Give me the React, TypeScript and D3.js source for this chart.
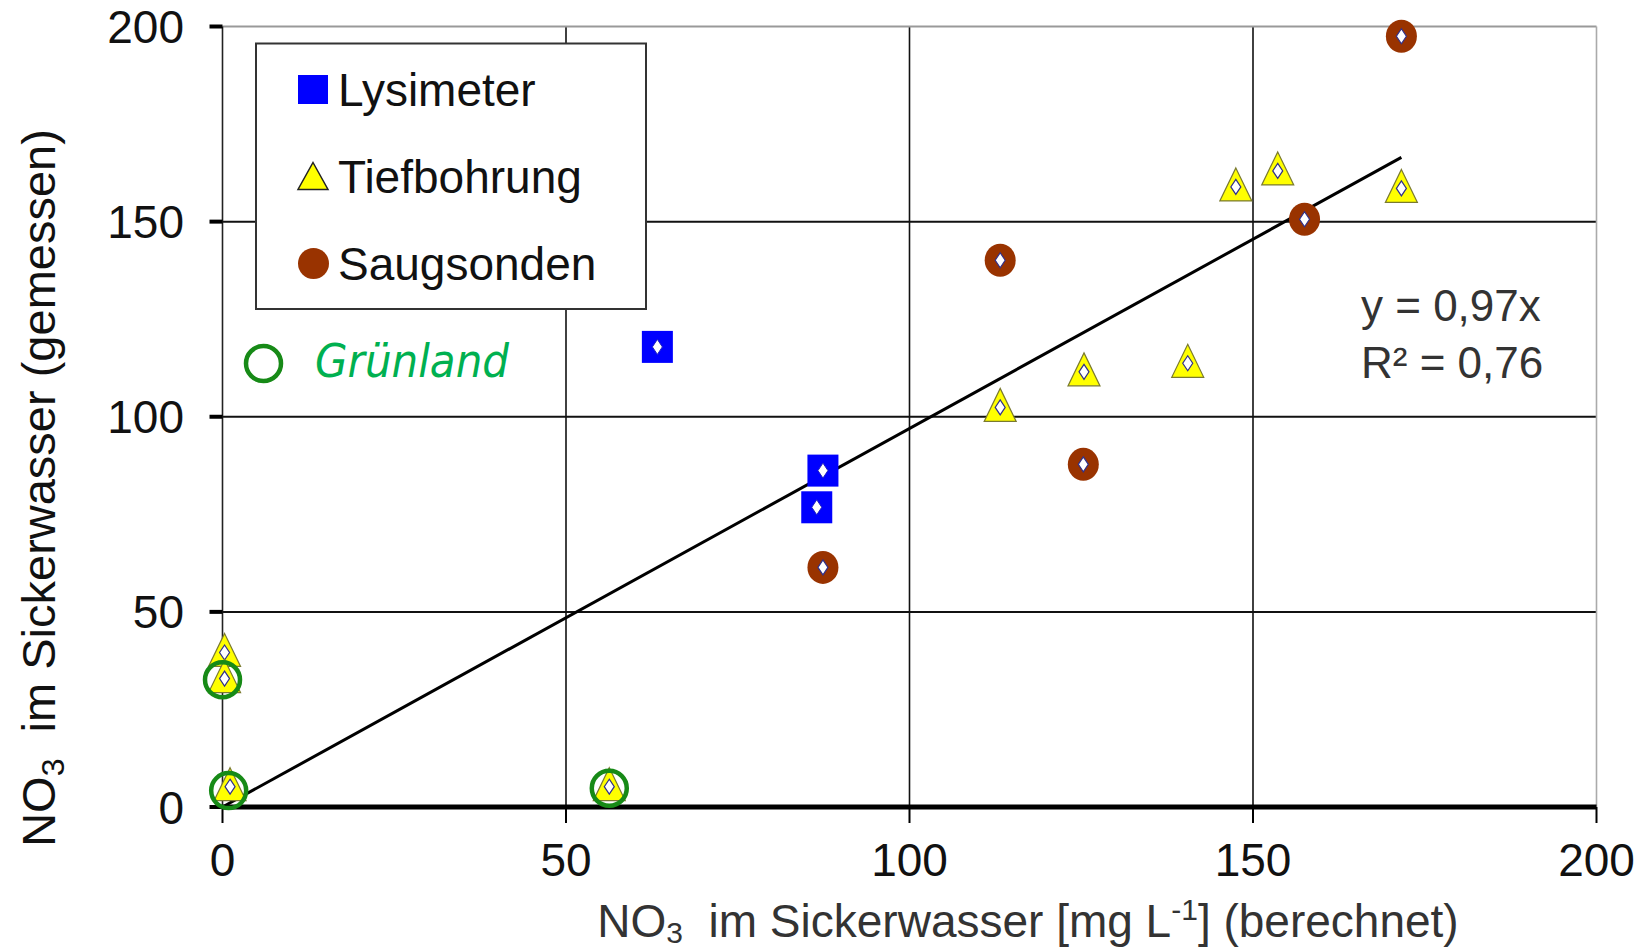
import React from 'react';
import * as d3 from 'd3';

// values (x = berechnet, y = gemessen)
const lysimeterX = [63.3, 87.4, 86.5];
const lysimeterY = [117.9, 86.2, 76.8];

const tiefbohrungX = [0.3, 0.3, 1.1, 56.3, 113.2, 125.4, 140.5, 147.5, 153.6, 171.6];
const tiefbohrungY = [39.6, 32.9, 5.2, 5.2, 102.4, 111.5, 113.7, 158.9, 163.0, 158.5];

const saugsondenX = [171.6, 157.5, 113.2, 125.3, 87.4];
const saugsondenY = [197.5, 150.6, 140.1, 87.8, 61.4];

const gruenlandX = [0.0, 0.9, 56.3];
const gruenlandY = [32.6, 4.2, 4.8];

const trendSlope = 0.97;
const trendEndX = 171.6;

const xTicks = [0, 50, 100, 150, 200];
const yTicks = [0, 50, 100, 150, 200];

const legendItems = ['Lysimeter', 'Tiefbohrung', 'Saugsonden'];

const W = 1646, H = 951;
const font = "'Liberation Sans', Arial, sans-serif";

const App = () => {
    const x = d3.scaleLinear().domain([0, 200]).range([222.5, 1596.5]);
    const y = d3.scaleLinear().domain([0, 200]).range([807, 26.5]);

    const diamond = (cx: number, cy: number) =>
        `M${cx},${cy - 7.5} L${cx + 5},${cy} L${cx},${cy + 7.5} L${cx - 5},${cy} Z`;
    const triangle = (cx: number, cy: number) =>
        `M${cx},${cy - 19} L${cx + 16},${cy + 14} L${cx - 16},${cy + 14} Z`;

    const line = d3.line<number>()
        .x((d) => x(d))
        .y((d) => y(d * trendSlope));

    return (
        <svg width={W} height={H} style={{position: 'fixed', left: 0, top: 0, background: '#fff'}}>
            {/* grid */}
            {yTicks.slice(1, 4).map((t) => (
                <line key={'gy' + t} x1={x(0)} x2={x(200)} y1={y(t)} y2={y(t)} stroke="#111" strokeWidth={2} />
            ))}
            {xTicks.slice(1, 4).map((t) => (
                <line key={'gx' + t} x1={x(t)} x2={x(t)} y1={y(0)} y2={y(200)} stroke="#111" strokeWidth={1.6} />
            ))}
            <line x1={x(0)} x2={x(200)} y1={y(200)} y2={y(200)} stroke="#999" strokeWidth={2} />
            <line x1={x(200)} x2={x(200)} y1={y(0)} y2={y(200)} stroke="#aaa" strokeWidth={1.6} />

            {/* y axis */}
            <line x1={x(0)} x2={x(0)} y1={y(0)} y2={y(200)} stroke="#222" strokeWidth={1.6} />
            {yTicks.map((t) => (
                <g key={'yt' + t}>
                    <line x1={x(0) - 13} x2={x(0)} y1={y(t)} y2={y(t)} stroke="#000" strokeWidth={4} />
                    <text x={184} y={y(t) + 16.5} textAnchor="end" fontFamily={font} fontSize={46} fill="#111">{t}</text>
                </g>
            ))}

            {/* x axis */}
            {xTicks.map((t) => (
                <g key={'xt' + t}>
                    <line x1={x(t)} x2={x(t)} y1={y(0)} y2={y(0) + 16} stroke="#000" strokeWidth={2} />
                    <text x={x(t)} y={876} textAnchor="middle" fontFamily={font} fontSize={46} fill="#111">{t}</text>
                </g>
            ))}
            <line x1={x(0)} x2={x(200)} y1={y(0)} y2={y(0)} stroke="#000" strokeWidth={5} />

            {/* axis titles */}
            <text transform="translate(55,488) rotate(-90)" textAnchor="middle" fontFamily={font} fontSize={47} fill="#111">
                NO<tspan fontSize={32} dy={9}>3</tspan><tspan dy={-9}>{'\u00a0 im Sickerwasser (gemessen)'}</tspan>
            </text>
            <text x={1028} y={937} textAnchor="middle" fontFamily={font} fontSize={46} fill="#333">
                NO<tspan fontSize={30} dy={6}>3</tspan><tspan dy={-6}>{'\u00a0 im Sickerwasser [mg L'}</tspan>
                <tspan fontSize={30} dy={-17}>-1</tspan><tspan dy={17}>{'] (berechnet)'}</tspan>
            </text>

            {/* trend line */}
            <path d={line([0, trendEndX]) || ''} stroke="#000" strokeWidth={3} fill="none" />

            {/* Tiefbohrung */}
            {tiefbohrungX.map((v, i) => (
                <g key={'t' + i}>
                    <path d={triangle(x(v), y(tiefbohrungY[i]))} fill="#ffff00" stroke="#7a7a30" strokeWidth={1.2} />
                    <path d={diamond(x(v), y(tiefbohrungY[i]))} fill="#fff" stroke="#30308a" strokeWidth={1.2} />
                </g>
            ))}

            {/* Saugsonden */}
            {saugsondenX.map((v, i) => (
                <g key={'s' + i}>
                    <ellipse cx={x(v)} cy={y(saugsondenY[i])} rx={15.5} ry={16.5} fill="#993300" />
                    <path d={diamond(x(v), y(saugsondenY[i]))} fill="#fff" stroke="#30308a" strokeWidth={1.2} />
                </g>
            ))}

            {/* Lysimeter */}
            {lysimeterX.map((v, i) => (
                <g key={'l' + i}>
                    <rect x={x(v) - 15.5} y={y(lysimeterY[i]) - 16} width={31} height={32} fill="#0000ff" />
                    <path d={diamond(x(v), y(lysimeterY[i]))} fill="#fff" stroke="#2020c0" strokeWidth={1} />
                </g>
            ))}

            {/* Grünland rings */}
            {gruenlandX.map((v, i) => (
                <circle key={'g' + i} cx={x(v)} cy={y(gruenlandY[i])} r={17.5} fill="none" stroke="#178a17" strokeWidth={4.5} />
            ))}

            {/* legend */}
            <rect x={256} y={43.5} width={390} height={265.5} fill="#fff" stroke="#333" strokeWidth={2} />
            {legendItems.map((name, i) => {
                const cy = 89.5 + i * 87;
                return (
                    <g key={name}>
                        {i === 0 && <rect x={298} y={cy - 14.5} width={30} height={29} fill="#0000ff" />}
                        {i === 1 && <path d={`M313,${cy - 14} L328,${cy + 13} L298,${cy + 13} Z`} fill="#ffff00" stroke="#222" strokeWidth={1.5} />}
                        {i === 2 && <circle cx={313.5} cy={cy} r={15.5} fill="#993300" />}
                        <text x={338} y={cy + 16.5} fontFamily={font} fontSize={46} fill="#111">{name}</text>
                    </g>
                );
            })}

            {/* Grünland annotation */}
            <circle cx={263.5} cy={363.5} r={17.5} fill="none" stroke="#178a17" strokeWidth={4.5} />
            <text x={315} y={377} fontFamily="'DejaVu Sans', sans-serif" fontStyle="italic" fontSize={46} fill="#00b050"
                  textLength={194} lengthAdjust="spacingAndGlyphs">Grünland</text>

            {/* equation */}
            <text x={1361} y={321} fontFamily={font} fontSize={44} fill="#333">y = 0,97x</text>
            <text x={1361} y={378} fontFamily={font} fontSize={44} fill="#333">R² = 0,76</text>
        </svg>
    );
};

export default App;
